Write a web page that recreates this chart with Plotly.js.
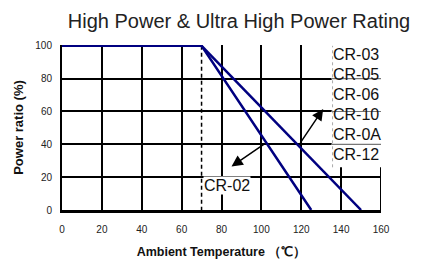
<!DOCTYPE html>
<html><head><meta charset="utf-8">
<script src="https://cdn.plot.ly/plotly-3.0.1.min.js"></script>
<style>html,body{margin:0;padding:0;background:#fff}</style>
</head><body>
<div id="chart" style="width:422px;height:261px"></div>
<script>
// Derating curves
const tempA = [0, 70, 125];     // CR-02 curve
const powerA = [100, 100, 0];
const tempB = [70, 150];        // CR-03..CR-12 curve
const powerB = [100, 0];
const kneeX = [70, 70];
const kneeY = [100, 0];
const xTicks = [0, 20, 40, 60, 80, 100, 120, 140, 160];
const yTicks = [0, 20, 40, 60, 80, 100];
const groupLabels = ["CR-03", "CR-05", "CR-06", "CR-10", "CR-0A", "CR-12"];
const singleLabel = "CR-02";

const navy = "#000080";
const FONT = "Liberation Sans, Arial, sans-serif";
const traces = [
  {x: kneeX, y: kneeY, mode: "lines", line: {color: "#000", width: 1.5, dash: "4px,3px"}, hoverinfo: "skip"},
  {x: tempA, y: powerA, mode: "lines", line: {color: navy, width: 2.5}, hoverinfo: "skip"},
  {x: tempB, y: powerB, mode: "lines", line: {color: navy, width: 2.5}, hoverinfo: "skip"}
];

const ann = [];
groupLabels.forEach((t, i) => {
  ann.push({x: 135, y: 95 - i * 12.25, xref: "x", yref: "y", text: t, showarrow: false,
    xanchor: "left", yanchor: "middle", font: {family: FONT, size: 16, color: "#111"}});
});
ann.push({x: 70.6, y: 15, xref: "x", yref: "y", text: singleLabel, showarrow: false,
  xanchor: "left", yanchor: "middle", bgcolor: "#fff", borderpad: 0,
  font: {family: FONT, size: 16, color: "#111"}});
// arrows
ann.push({x: 85, y: 26.5, ax: 102.5, ay: 41, xref: "x", yref: "y", axref: "x", ayref: "y",
  text: "", showarrow: true, arrowhead: 2, arrowsize: 1.5, arrowwidth: 1.5, arrowcolor: "#000"});
ann.push({x: 131, y: 61.5, ax: 119, ay: 40, xref: "x", yref: "y", axref: "x", ayref: "y",
  text: "", showarrow: true, arrowhead: 2, arrowsize: 1.5, arrowwidth: 1.5, arrowcolor: "#000"});

const shapes = [
  {type: "rect", xref: "x", yref: "y", x0: 135.3, x1: 162, y0: 26, y1: 102, layer: "above",
    fillcolor: "#fff", line: {width: 0}},
  {type: "line", xref: "x", yref: "y", x0: 160, x1: 160, y0: 0, y1: 26, layer: "above",
    line: {color: "#000", width: 2}},
  {type: "line", xref: "x", yref: "y", x0: 160.3, x1: 160.3, y0: 26, y1: 100, layer: "above",
    line: {color: "#555", width: 1, dash: "dot"}},
  {type: "line", xref: "x", yref: "y", x0: 135.7, x1: 135.7, y0: 26, y1: 100, layer: "above",
    line: {color: "#aaa", width: 1, dash: "dot"}}
];
[80, 60, 40].forEach(v => shapes.push({type: "line", xref: "x", yref: "y", x0: 135, x1: 160,
  y0: v, y1: v, layer: "above", line: {color: "#777", width: 1.2}}));

const layout = {
  width: 422, height: 261,
  margin: {l: 62, r: 41, t: 45, b: 51},
  paper_bgcolor: "#fff", plot_bgcolor: "#fff",
  showlegend: false,
  title: {text: "High Power &amp; Ultra High Power Rating", x: 239/422, xanchor: "center",
    y: 1 - 21/261, yanchor: "middle", font: {family: FONT, size: 20, color: "#222"}},
  xaxis: {range: [0, 160], tickvals: xTicks, ticktext: xTicks.map(String), showgrid: true,
    gridcolor: "#000", gridwidth: 2, showline: true, linecolor: "#000", linewidth: 2.5,
    zeroline: false, ticks: "", ticklabelstandoff: 8, fixedrange: true,
    tickfont: {family: FONT, size: 10, color: "#222"},
    title: {text: "<b>Ambient Temperature （℃）</b>", standoff: 14,
      font: {family: FONT, size: 12.5, color: "#111"}}},
  yaxis: {range: [0, 100.5], tickvals: yTicks, ticktext: yTicks.map(String), showgrid: true,
    gridcolor: "#000", gridwidth: 2, showline: true, linecolor: "#000", linewidth: 2,
    zeroline: false, ticks: "", ticklabelstandoff: 6, fixedrange: true,
    tickfont: {family: FONT, size: 10, color: "#222"},
    title: {text: "<b>Power ratio (%)</b>", standoff: 9,
      font: {family: FONT, size: 13, color: "#111"}}},
  shapes: shapes,
  annotations: ann
};
Plotly.newPlot("chart", traces, layout, {displayModeBar: false, staticPlot: true});
</script>
</body></html>
